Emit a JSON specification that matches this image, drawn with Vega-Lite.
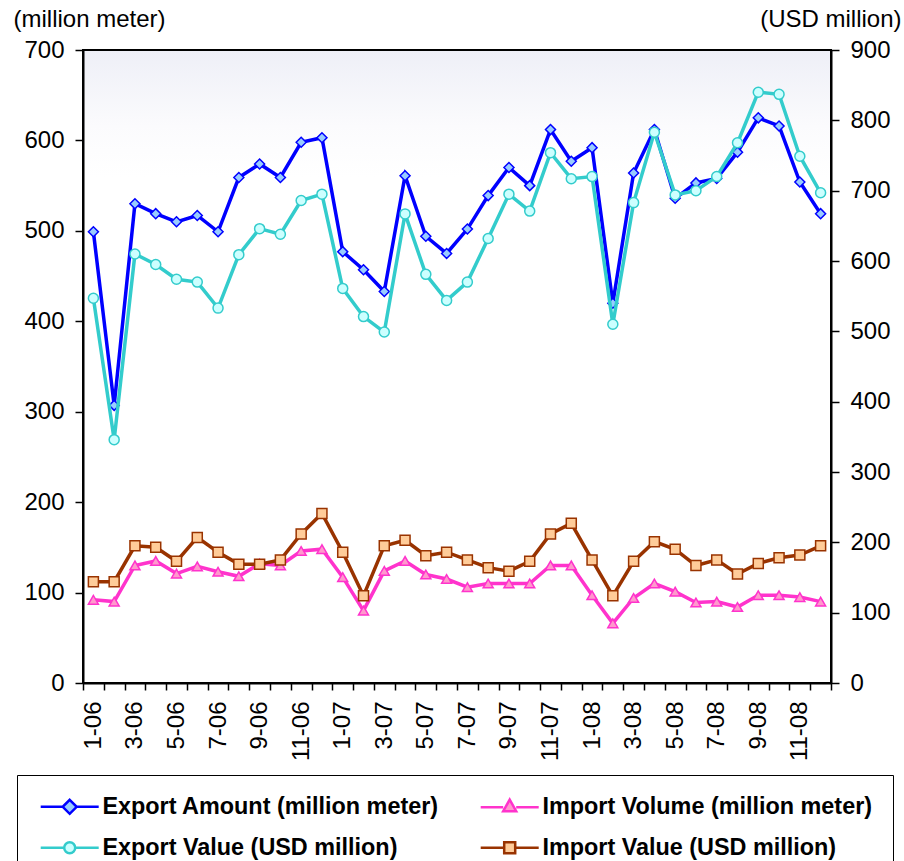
{
  "$schema": "https://vega.github.io/schema/vega-lite/v6.json",
  "width": 748,
  "height": 633,
  "autosize": "none",
  "padding": {"left": 83, "top": 50, "right": 73, "bottom": 178},
  "background": "white",
  "config": {
    "font": "Liberation Sans",
    "view": {
      "stroke": "black",
      "strokeWidth": 2,
      "fill": {"gradient": "linear", "x1": 0, "y1": 0, "x2": 0, "y2": 1, "stops": [{"offset": 0, "color": "#EEEFF7"}, {"offset": 0.12, "color": "#FBFBFD"}, {"offset": 0.2, "color": "#FFFFFF"}, {"offset": 1, "color": "#FFFFFF"}]}
    },
    "axis": {
      "labelFont": "Liberation Sans",
      "labelFontSize": 24,
      "labelColor": "black",
      "titleFont": "Liberation Sans",
      "titleFontSize": 24,
      "titleFontWeight": "normal",
      "titleColor": "black",
      "domainColor": "black",
      "domainWidth": 2,
      "tickColor": "black",
      "tickWidth": 1.5,
      "grid": false
    }
  },
  "data": {
    "values": [
      {"month": "1-06", "Export Amount (million meter)": 499, "Import Volume (million meter)": 92, "Export Value (USD million)": 547, "Import Value (USD million)": 144},
      {"month": "2-06", "Export Amount (million meter)": 307, "Import Volume (million meter)": 90, "Export Value (USD million)": 346, "Import Value (USD million)": 144},
      {"month": "3-06", "Export Amount (million meter)": 530, "Import Volume (million meter)": 130, "Export Value (USD million)": 610, "Import Value (USD million)": 195},
      {"month": "4-06", "Export Amount (million meter)": 519, "Import Volume (million meter)": 135, "Export Value (USD million)": 595, "Import Value (USD million)": 193},
      {"month": "5-06", "Export Amount (million meter)": 510, "Import Volume (million meter)": 121, "Export Value (USD million)": 574, "Import Value (USD million)": 173},
      {"month": "6-06", "Export Amount (million meter)": 517, "Import Volume (million meter)": 129, "Export Value (USD million)": 570, "Import Value (USD million)": 207},
      {"month": "7-06", "Export Amount (million meter)": 499, "Import Volume (million meter)": 123, "Export Value (USD million)": 533, "Import Value (USD million)": 186},
      {"month": "8-06", "Export Amount (million meter)": 559, "Import Volume (million meter)": 118, "Export Value (USD million)": 609, "Import Value (USD million)": 169},
      {"month": "9-06", "Export Amount (million meter)": 574, "Import Volume (million meter)": 132, "Export Value (USD million)": 646, "Import Value (USD million)": 169},
      {"month": "10-06", "Export Amount (million meter)": 559, "Import Volume (million meter)": 130, "Export Value (USD million)": 638, "Import Value (USD million)": 175},
      {"month": "11-06", "Export Amount (million meter)": 598, "Import Volume (million meter)": 146, "Export Value (USD million)": 686, "Import Value (USD million)": 212},
      {"month": "12-06", "Export Amount (million meter)": 603, "Import Volume (million meter)": 148, "Export Value (USD million)": 695, "Import Value (USD million)": 241},
      {"month": "1-07", "Export Amount (million meter)": 477, "Import Volume (million meter)": 117, "Export Value (USD million)": 561, "Import Value (USD million)": 186},
      {"month": "2-07", "Export Amount (million meter)": 457, "Import Volume (million meter)": 80, "Export Value (USD million)": 521, "Import Value (USD million)": 124},
      {"month": "3-07", "Export Amount (million meter)": 433, "Import Volume (million meter)": 124, "Export Value (USD million)": 499, "Import Value (USD million)": 195},
      {"month": "4-07", "Export Amount (million meter)": 561, "Import Volume (million meter)": 135, "Export Value (USD million)": 667, "Import Value (USD million)": 203},
      {"month": "5-07", "Export Amount (million meter)": 494, "Import Volume (million meter)": 120, "Export Value (USD million)": 581, "Import Value (USD million)": 181},
      {"month": "6-07", "Export Amount (million meter)": 475, "Import Volume (million meter)": 115, "Export Value (USD million)": 544, "Import Value (USD million)": 186},
      {"month": "7-07", "Export Amount (million meter)": 502, "Import Volume (million meter)": 106, "Export Value (USD million)": 570, "Import Value (USD million)": 175},
      {"month": "8-07", "Export Amount (million meter)": 539, "Import Volume (million meter)": 110, "Export Value (USD million)": 632, "Import Value (USD million)": 164},
      {"month": "9-07", "Export Amount (million meter)": 570, "Import Volume (million meter)": 110, "Export Value (USD million)": 695, "Import Value (USD million)": 159},
      {"month": "10-07", "Export Amount (million meter)": 550, "Import Volume (million meter)": 110, "Export Value (USD million)": 671, "Import Value (USD million)": 173},
      {"month": "11-07", "Export Amount (million meter)": 612, "Import Volume (million meter)": 130, "Export Value (USD million)": 754, "Import Value (USD million)": 212},
      {"month": "12-07", "Export Amount (million meter)": 577, "Import Volume (million meter)": 130, "Export Value (USD million)": 717, "Import Value (USD million)": 227},
      {"month": "1-08", "Export Amount (million meter)": 592, "Import Volume (million meter)": 97, "Export Value (USD million)": 720, "Import Value (USD million)": 175},
      {"month": "2-08", "Export Amount (million meter)": 420, "Import Volume (million meter)": 66, "Export Value (USD million)": 510, "Import Value (USD million)": 124},
      {"month": "3-08", "Export Amount (million meter)": 564, "Import Volume (million meter)": 94, "Export Value (USD million)": 683, "Import Value (USD million)": 173},
      {"month": "4-08", "Export Amount (million meter)": 612, "Import Volume (million meter)": 110, "Export Value (USD million)": 783, "Import Value (USD million)": 201},
      {"month": "5-08", "Export Amount (million meter)": 536, "Import Volume (million meter)": 101, "Export Value (USD million)": 694, "Import Value (USD million)": 190},
      {"month": "6-08", "Export Amount (million meter)": 553, "Import Volume (million meter)": 89, "Export Value (USD million)": 700, "Import Value (USD million)": 167},
      {"month": "7-08", "Export Amount (million meter)": 558, "Import Volume (million meter)": 90, "Export Value (USD million)": 720, "Import Value (USD million)": 175},
      {"month": "8-08", "Export Amount (million meter)": 587, "Import Volume (million meter)": 84, "Export Value (USD million)": 768, "Import Value (USD million)": 155},
      {"month": "9-08", "Export Amount (million meter)": 625, "Import Volume (million meter)": 97, "Export Value (USD million)": 840, "Import Value (USD million)": 170},
      {"month": "10-08", "Export Amount (million meter)": 616, "Import Volume (million meter)": 97, "Export Value (USD million)": 837, "Import Value (USD million)": 178},
      {"month": "11-08", "Export Amount (million meter)": 554, "Import Volume (million meter)": 95, "Export Value (USD million)": 749, "Import Value (USD million)": 182},
      {"month": "12-08", "Export Amount (million meter)": 519, "Import Volume (million meter)": 90, "Export Value (USD million)": 697, "Import Value (USD million)": 195}
    ]
  },
  "transform": [
    {"fold": ["Export Amount (million meter)", "Import Volume (million meter)", "Export Value (USD million)", "Import Value (USD million)"], "as": ["series", "value"]}
  ],
  "encoding": {
    "x": {
      "field": "month",
      "type": "ordinal",
      "sort": null,
      "bandPosition": 0.5,
      "scale": {"type": "band", "paddingInner": 0, "paddingOuter": 0},
      "axis": {
        "title": null,
        "tickBand": "extent",
        "tickSize": 7,
        "labelAngle": -90,
        "labelAlign": "right",
        "labelBaseline": "middle",
        "labelPadding": 11,
        "labelFontSize": 24,
        "labelOverlap": false,
        "labelExpr": "test(/^(1|3|5|7|9|11)-/, datum.label) ? datum.label : ''"
      }
    }
  },
  "layer": [
    {
      "transform": [{"filter": {"field": "series", "oneOf": ["Export Amount (million meter)", "Import Volume (million meter)"]}}],
      "encoding": {
        "y": {
          "field": "value",
          "type": "quantitative",
          "scale": {"domain": [0, 700], "nice": false, "zero": true},
          "axis": {
            "orient": "left",
            "values": [0, 100, 200, 300, 400, 500, 600, 700],
            "tickSize": 8,
            "labelPadding": 11,
            "title": "(million meter)",
            "titleAngle": 0,
            "titleAlign": "left",
            "titleBaseline": "alphabetic",
            "titleX": -70,
            "titleY": -24
          }
        }
      },
      "layer": [
        {
          "mark": {"type": "line", "strokeWidth": 3.5},
          "encoding": {
            "stroke": {
              "field": "series",
              "type": "nominal",
              "scale": {"domain": ["Export Amount (million meter)", "Import Volume (million meter)", "Export Value (USD million)", "Import Value (USD million)"], "range": ["#0000FF", "#FF33CC", "#33CCCC", "#993300"]},
              "legend": {
                "title": null,
                "orient": "none",
                "legendX": -66,
                "legendY": 725,
                "columns": 2,
                "direction": "horizontal",
                "strokeColor": "black",
                "fillColor": "white",
                "padding": 20,
                "symbolSize": 400,
                "symbolOffset": 21,
                "labelOffset": 21,
                "columnPadding": 36,
                "rowPadding": 16,
                "labelFont": "Liberation Sans",
                "labelFontSize": 23.4,
                "labelFontWeight": "bold",
                "labelColor": "black",
                "labelLimit": 600,
                "symbolStrokeWidth": 2.5,
                "symbolOpacity": 1,
                "symbolType": {"expr": "datum.value === 'Export Amount (million meter)' ? 'M-2.9,0H-0.7M0.7,0H2.9M0,-0.7L0.7,0L0,0.7L-0.7,0Z' : datum.value === 'Import Volume (million meter)' ? 'M-2.9,0H-0.65M0.65,0H2.9M0,-0.75L0.65,0.4L-0.65,0.4Z' : datum.value === 'Export Value (USD million)' ? 'M-2.9,0H-0.55M0.55,0H2.9M0.55,0A0.55,0.55,0,1,1,-0.55,0A0.55,0.55,0,1,1,0.55,0Z' : 'M-2.9,0H-0.55M0.55,0H2.9M-0.55,-0.55H0.55V0.55H-0.55Z'"},
                "symbolFillColor": {"expr": "datum.value === 'Export Amount (million meter)' ? '#99CCFF' : datum.value === 'Import Volume (million meter)' ? '#FF99CC' : datum.value === 'Export Value (USD million)' ? '#CCFFFF' : '#FFCC99'"}
              }
            }
          }
        },
        {
          "transform": [{"filter": {"field": "series", "equal": "Export Amount (million meter)"}}],
          "mark": {"type": "point", "filled": true, "shape": "diamond", "size": 100, "fill": "#99CCFF", "stroke": "#0000FF", "strokeWidth": 1.5, "opacity": 1}
        },
        {
          "transform": [{"filter": {"field": "series", "equal": "Import Volume (million meter)"}}],
          "mark": {"type": "point", "filled": true, "shape": "triangle-up", "size": 100, "fill": "#FF99CC", "stroke": "#FF33CC", "strokeWidth": 1.5, "opacity": 1}
        }
      ]
    },
    {
      "transform": [{"filter": {"field": "series", "oneOf": ["Export Value (USD million)", "Import Value (USD million)"]}}],
      "encoding": {
        "y": {
          "field": "value",
          "type": "quantitative",
          "scale": {"domain": [0, 900], "nice": false, "zero": true},
          "axis": {
            "orient": "right",
            "values": [0, 100, 200, 300, 400, 500, 600, 700, 800, 900],
            "tickSize": 8,
            "labelPadding": 11,
            "title": "(USD million)",
            "titleAngle": 0,
            "titleAlign": "right",
            "titleBaseline": "alphabetic",
            "titleX": 70,
            "titleY": -24
          }
        }
      },
      "layer": [
        {
          "mark": {"type": "line", "strokeWidth": 3.5},
          "encoding": {
            "stroke": {"field": "series", "type": "nominal"}
          }
        },
        {
          "transform": [{"filter": {"field": "series", "equal": "Export Value (USD million)"}}],
          "mark": {"type": "point", "filled": true, "shape": "circle", "size": 100, "fill": "#CCFFFF", "stroke": "#33CCCC", "strokeWidth": 1.5, "opacity": 1}
        },
        {
          "transform": [{"filter": {"field": "series", "equal": "Import Value (USD million)"}}],
          "mark": {"type": "point", "filled": true, "shape": "square", "size": 100, "fill": "#FFCC99", "stroke": "#993300", "strokeWidth": 1.5, "opacity": 1}
        }
      ]
    }
  ],
  "resolve": {"scale": {"y": "independent"}}
}
